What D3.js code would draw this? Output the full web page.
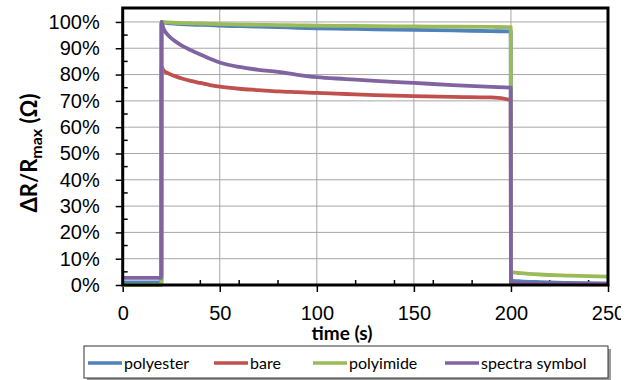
<!DOCTYPE html>
<html>
<head>
<meta charset="utf-8">
<script src="https://cdn.jsdelivr.net/npm/d3@7"></script>
<style>
  body { margin: 0; background: #fff; }
  svg { display: block; font-family: Lato, 'Open Sans', sans-serif; }
</style>
</head>
<body>
<div id="chart"></div>
<script>
// time samples (s); the jumps are doubled points
const times = [0, 19.9, 20, 21, 23, 26, 30, 35, 40, 45, 50, 60, 70, 80, 90, 100, 115, 130, 150, 170, 190, 199.9, 200, 201, 205, 215, 230, 250];

// values in %
const polyester = [1, 1, 100, 99.8, 99.6, 99.4, 99.2, 99, 98.9, 98.8, 98.6, 98.4, 98.2, 98, 97.8, 97.6, 97.4, 97.2, 97, 96.8, 96.5, 96.4, 1.8, 1.6, 1.4, 1.1, 0.8, 0.5];
const bare      = [0, 0, 83, 81.6, 80.6, 79.6, 78.6, 77.6, 76.8, 76, 75.4, 74.6, 74.1, 73.6, 73.3, 73, 72.6, 72.2, 71.8, 71.5, 71.3, 70.3, 0.5, 0.4, 0.4, 0.3, 0.3, 0.2];
const polyimide = [0, 0, 100, 99.9, 99.8, 99.7, 99.6, 99.5, 99.4, 99.3, 99.2, 99, 98.9, 98.8, 98.7, 98.6, 98.5, 98.4, 98.3, 98.2, 98.1, 98, 5, 4.8, 4.5, 4, 3.6, 3.2];
const spectra   = [2.7, 2.7, 100, 97.5, 95.3, 93.2, 91.2, 89.3, 87.6, 86, 84.6, 82.9, 81.8, 81, 79.9, 79, 78.3, 77.6, 76.8, 76, 75.3, 75, 0.8, 0.7, 0.7, 0.6, 0.5, 0.5];

const seriesNames  = ['polyester', 'bare', 'polyimide', 'spectra symbol'];
const seriesValues = [polyester, bare, polyimide, spectra];
const seriesColors = ['#4f81bd', '#c0504d', '#9bbb59', '#8064a2'];

const xTicks = [0, 50, 100, 150, 200, 250];
const xMinorTicks = [20, 40, 60, 80, 120, 140, 160, 180, 220, 240];
const yTicks = [0, 10, 20, 30, 40, 50, 60, 70, 80, 90, 100];
const yMinorTicks = [5, 15, 25, 35, 45, 55, 65, 75, 85, 95];

const width = 641, height = 380;
const plotLeft = 122.7, plotRight = 608, plotTop = 8, plotBottom = 285;

const svg = d3.select('#chart').append('svg')
  .attr('width', width).attr('height', height);

// 1. Escalas
const x = d3.scaleLinear().domain([0, 250]).range([plotLeft, plotRight]);
const y = d3.scaleLinear().domain([0, 105.3]).range([plotBottom, plotTop]);

// 2. Rejilla
svg.append('g').selectAll('line').data(yTicks.slice(1))
  .join('line')
  .attr('x1', plotLeft).attr('x2', plotRight)
  .attr('y1', d => y(d)).attr('y2', d => y(d))
  .attr('stroke', '#a6a6a6').attr('stroke-width', 1);

svg.append('g').selectAll('line').data(xTicks.slice(1, -1))
  .join('line')
  .attr('y1', plotTop).attr('y2', plotBottom)
  .attr('x1', d => x(d)).attr('x2', d => x(d))
  .attr('stroke', '#a6a6a6').attr('stroke-width', 1);

// 3. Ejes (ticks mayores hacia fuera, menores hacia dentro)
const yAxis = svg.append('g')
  .attr('transform', `translate(${plotLeft},0)`)
  .call(d3.axisLeft(y).tickValues(yTicks).tickSize(7).tickPadding(16).tickFormat(d => d + '%'));
yAxis.select('.domain').remove();
yAxis.selectAll('.tick line').attr('stroke', '#000').attr('stroke-width', 1.5);
yAxis.selectAll('.tick text').style('font-size', '20px').attr('fill', '#000');

svg.append('g').selectAll('line').data(yMinorTicks)
  .join('line')
  .attr('x1', plotLeft).attr('x2', plotLeft + 5)
  .attr('y1', d => y(d)).attr('y2', d => y(d))
  .attr('stroke', '#000').attr('stroke-width', 1.5);

svg.append('defs').append('clipPath').attr('id', 'xclip')
  .append('rect').attr('x', 0).attr('y', 0).attr('width', 621).attr('height', height);

const xAxis = svg.append('g')
  .attr('transform', `translate(0,${plotBottom})`)
  .attr('clip-path', 'url(#xclip)')
  .call(d3.axisBottom(x).tickValues(xTicks).tickSize(7).tickPadding(14));
xAxis.select('.domain').remove();
xAxis.selectAll('.tick line').attr('stroke', '#000').attr('stroke-width', 1.5);
xAxis.selectAll('.tick text').style('font-size', '20px').attr('fill', '#000');

svg.append('g').selectAll('line').data(xMinorTicks)
  .join('line')
  .attr('x1', d => x(d)).attr('x2', d => x(d))
  .attr('y1', plotBottom).attr('y2', plotBottom - 5)
  .attr('stroke', '#000').attr('stroke-width', 1.5);

// 4. Series (suavizadas como en Excel)
const line = d3.line()
  .x((d, i) => x(times[i]))
  .y(d => y(d))
  .curve(d3.curveMonotoneX);

svg.append('g').selectAll('path').data(seriesValues)
  .join('path')
  .attr('d', d => line(d))
  .attr('fill', 'none')
  .attr('stroke', (d, i) => seriesColors[i])
  .attr('stroke-width', 3.8)
  .attr('stroke-linejoin', 'round');

// 5. Marco del área de trazado
svg.append('rect')
  .attr('x', plotLeft).attr('y', plotTop)
  .attr('width', plotRight - plotLeft).attr('height', plotBottom - plotTop)
  .attr('fill', 'none').attr('stroke', '#000').attr('stroke-width', 3);

// 6. Títulos de ejes
svg.append('text')
  .attr('x', 342).attr('y', 340)
  .attr('text-anchor', 'middle')
  .style('font-size', '19px').style('font-weight', 'bold')
  .text('time (s)');

const yTitle = svg.append('text')
  .attr('transform', 'translate(37,153) rotate(-90)')
  .attr('text-anchor', 'middle')
  .style('font-size', '22px').style('font-weight', 'bold');
yTitle.append('tspan').text('ΔR/R');
yTitle.append('tspan').attr('dy', 5).style('font-size', '16px').text('max');
yTitle.append('tspan').attr('dy', -5).text(' (Ω)');

// 7. Leyenda
const legendX = 84, legendY = 346, legendW = 524, legendH = 32;
svg.append('rect')
  .attr('x', legendX + 3).attr('y', legendY + 3)
  .attr('width', legendW).attr('height', legendH)
  .attr('fill', '#9a9a9a');
svg.append('rect')
  .attr('x', legendX).attr('y', legendY)
  .attr('width', legendW).attr('height', legendH)
  .attr('fill', '#fff').attr('stroke', '#333').attr('stroke-width', 1);

const legendStarts = [88, 214, 313, 445];
const item = svg.append('g').selectAll('g').data(seriesNames)
  .join('g')
  .attr('transform', (d, i) => `translate(${legendStarts[i]},363)`);
item.append('line')
  .attr('x1', 0).attr('x2', 34)
  .attr('stroke', (d, i) => seriesColors[i]).attr('stroke-width', 3.5);
item.append('text')
  .attr('x', 36).attr('dy', '0.35em')
  .style('font-size', '16px')
  .text(d => d);
</script>
</body>
</html>
